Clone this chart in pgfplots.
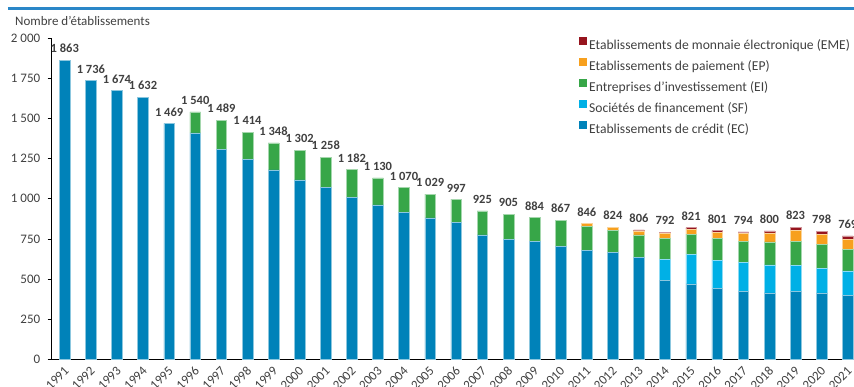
\documentclass[border=0pt]{standalone}
\usepackage{fontspec}
\setmainfont{Carlito}
\usepackage{pgfplots}
\usepackage{pgfplotstable}
\pgfplotsset{compat=1.18}

\definecolor{ecblue}{RGB}{0,130,185}
\definecolor{sfblue}{RGB}{0,176,230}
\definecolor{eigreen}{RGB}{55,166,72}
\definecolor{eporange}{RGB}{247,160,30}
\definecolor{emered}{RGB}{150,20,30}
\definecolor{rulecol}{RGB}{42,135,200}
\definecolor{txt}{RGB}{64,64,64}

% Number of institutions by type of licence
\pgfplotstableread{
idx year EC SF EI EP EME
0 1991 1863 0 0 0 0
1 1992 1736 0 0 0 0
2 1993 1674 0 0 0 0
3 1994 1632 0 0 0 0
4 1995 1469 0 0 0 0
5 1996 1410 0 130 0 0
6 1997 1306 0 183 0 0
7 1998 1244 0 170 0 0
8 1999 1180 0 168 0 0
9 2000 1117 0 185 0 0
10 2001 1071 0 187 0 0
11 2002 1010 0 172 0 0
12 2003 962 0 168 0 0
13 2004 914 0 156 0 0
14 2005 881 0 148 0 0
15 2006 852 0 145 0 0
16 2007 775 0 150 0 0
17 2008 749 0 156 0 0
18 2009 734 0 150 0 0
19 2010 705 0 160 2 0
20 2011 679 0 150 17 0
21 2012 666 0 137 21 0
22 2013 636 0 139 25 6
23 2014 490 134 128 32 8
24 2015 470 185 125 31 10
25 2016 441 176 135 39 10
26 2017 423 182 131 48 10
27 2018 414 174 143 56 13
28 2019 422 165 150 66 20
29 2020 414 155 148 60 21
30 2021 398 153 135 62 21
}\etab

\newcommand\fs{\fontsize{13bp}{15bp}\selectfont}
\newcommand\fsl{\fontsize{13.6bp}{15bp}\selectfont}

\begin{document}
\begin{tikzpicture}
\path[use as bounding box, clip] (-51.7bp,-27.5bp) rectangle ++(854bp,387bp);
\pgfplotsset{base/.style={
  scale only axis, width=809.1bp, height=321.5bp,
  xmin=-0.5, xmax=30.5, ymin=0, ymax=2000,
  at={(0,0)}, anchor=south west,
}}
\begin{axis}[base, ybar stacked, bar width=10.7bp,
  axis x line*=bottom, axis y line*=left,
  axis line style={-, black, line width=0.8bp},
  tick align=outside,
  ytick={0,250,...,2000},
  yticklabels={0,250,500,750,{1 000},{1 250},{1 500},{1 750},{2 000}},
  ytick style={black, line width=0.6bp},
  major tick length=4bp, minor tick length=4bp,
  xtick={0,...,30},
  xticklabels from table={\etab}{year},
  xtick style={draw=none},
  minor xtick={-0.5,0.5,...,30.5},
  minor x tick style={black!70, line width=0.6bp},
  ticklabel style={font=\fs, text=txt},
  yticklabel style={xshift=-4bp},
  xticklabel style={rotate=45, anchor=east, yshift=-5bp, xshift=1bp},
  legend image code/.code={\path[#1, draw=none] (0bp,1.5bp) rectangle (8bp,9.5bp);},
  reverse legend,
  legend cell align=left,
  legend style={draw=none, fill=none, at={(0.6480,1.011)}, anchor=north west,
    font=\fsl, text=txt, column sep=2bp, row sep=5.3bp,
    nodes={inner sep=0pt, text height=9.5bp, text depth=3bp}},
]
\addplot[fill=ecblue, draw=ecblue!45!white, line width=0.5bp] table[x=idx, y=EC] {\etab};
\addlegendentry{Etablissements de crédit (EC)}
\addplot[fill=sfblue, draw=sfblue!45!white, line width=0.5bp] table[x=idx, y=SF] {\etab};
\addlegendentry{Sociétés de financement (SF)}
\addplot[fill=eigreen, draw=eigreen!45!white, line width=0.5bp] table[x=idx, y=EI] {\etab};
\addlegendentry{Entreprises d'investissement (EI)}
\addplot[fill=eporange, draw=eporange!45!white, line width=0.5bp] table[x=idx, y=EP] {\etab};
\addlegendentry{Etablissements de paiement (EP)}
\addplot[fill=emered, draw=emered!45!white, line width=0.5bp] table[x=idx, y=EME] {\etab};
\addlegendentry{Etablissements de monnaie électronique (EME)}
\end{axis}
% totals above the stacks
\begin{axis}[base, hide axis, clip=false]
\addplot[draw=none, mark=none, point meta=y,
  nodes near coords={\pgfmathprintnumber[fixed, precision=0, 1000 sep={\ }, assume math mode=true]{\pgfplotspointmeta}},
  every node near coord/.style={anchor=south, inner sep=0pt, yshift=7bp,
    font=\fontsize{12.5bp}{14bp}\selectfont\bfseries, text=txt}]
  table[x=idx, y expr=\thisrow{EC}+\thisrow{SF}+\thisrow{EI}+\thisrow{EP}+\thisrow{EME}] {\etab};
\end{axis}
\draw[rulecol, line width=2.5bp] (-43.7bp,351bp) -- (810bp,351bp);
\node[anchor=base west, inner sep=0pt, font=\fs, text=txt] at (-36.7bp,334bp) {Nombre d'établissements};
\end{tikzpicture}
\end{document}
